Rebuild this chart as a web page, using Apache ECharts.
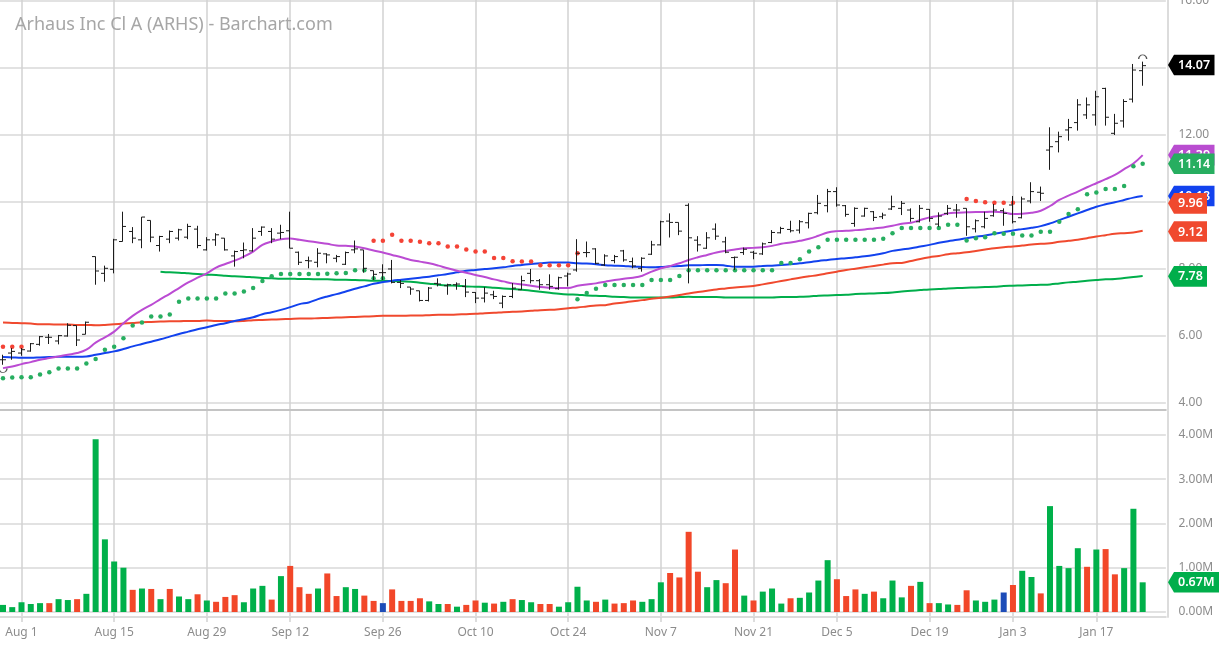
<!DOCTYPE html>
<html><head><meta charset="utf-8">
<style>html,body{margin:0;padding:0;background:#fff}#c{width:1219px;height:645px}</style>
<script src="https://cdn.jsdelivr.net/npm/echarts@6/dist/echarts.min.js"></script>
</head><body><div id="c"></div>
<script>
const categories=['Jul 28','Jul 29',
'Aug 1','Aug 2','Aug 3','Aug 4','Aug 5','Aug 8','Aug 9','Aug 10','Aug 11','Aug 12','Aug 15','Aug 16','Aug 17','Aug 18','Aug 19','Aug 22','Aug 23','Aug 24','Aug 25','Aug 26','Aug 29','Aug 30','Aug 31',
'Sep 1','Sep 2','Sep 6','Sep 7','Sep 8','Sep 9','Sep 12','Sep 13','Sep 14','Sep 15','Sep 16','Sep 19','Sep 20','Sep 21','Sep 22','Sep 23','Sep 26','Sep 27','Sep 28','Sep 29','Sep 30',
'Oct 3','Oct 4','Oct 5','Oct 6','Oct 7','Oct 10','Oct 11','Oct 12','Oct 13','Oct 14','Oct 17','Oct 18','Oct 19','Oct 20','Oct 21','Oct 24','Oct 25','Oct 26','Oct 27','Oct 28','Oct 31',
'Nov 1','Nov 2','Nov 3','Nov 4','Nov 7','Nov 8','Nov 9','Nov 10','Nov 11','Nov 14','Nov 15','Nov 16','Nov 17','Nov 18','Nov 21','Nov 22','Nov 23','Nov 25','Nov 28','Nov 29','Nov 30',
'Dec 1','Dec 2','Dec 5','Dec 6','Dec 7','Dec 8','Dec 9','Dec 12','Dec 13','Dec 14','Dec 15','Dec 16','Dec 19','Dec 20','Dec 21','Dec 22','Dec 23','Dec 27','Dec 28','Dec 29','Dec 30',
'Jan 3','Jan 4','Jan 5','Jan 6','Jan 9','Jan 10','Jan 11','Jan 12','Jan 13','Jan 17','Jan 18','Jan 19','Jan 20','Jan 23','Jan 24',' ','  '];
const tickLabels=['Aug 1','Aug 15','Aug 29','Sep 12','Sep 26','Oct 10','Oct 24','Nov 7','Nov 21','Dec 5','Dec 19','Jan 3','Jan 17'];
const priceTicks=[4,6,8,10,12,14,16];
const volumeTicks=[0,1,2,3,4];
const opens=[5.29,5.49,5.49,5.55,5.75,5.96,5.85,6.0,6.31,6.05,
8.37,7.87,7.99,8.82,9.12,8.87,9.45,8.7,8.89,8.92,
8.95,9.19,8.57,8.87,8.92,8.39,8.55,8.54,9.12,9.12,
9.07,9.14,8.5,8.25,8.2,8.45,8.32,8.14,8.57,8.57,
7.95,7.89,8.0,7.6,7.46,7.35,7.06,7.57,7.5,7.53,
7.48,7.3,7.13,7.23,6.98,7.18,7.38,7.87,7.65,7.53,
7.41,7.79,7.97,8.49,8.6,8.12,8.25,8.54,8.22,8.02,
8.44,8.72,9.43,9.39,9.9,8.86,8.62,9.19,8.81,8.34,
8.49,8.5,8.45,8.79,9.08,9.18,9.16,9.38,9.68,9.89,
10.31,9.89,9.36,9.58,9.71,9.56,9.79,9.81,9.76,9.41,
9.78,9.34,9.66,9.76,9.81,9.2,9.26,9.59,9.74,9.91,
9.53,10.03,10.29,11.55,11.8,12.15,12.37,12.6,12.6,13.39,
12.05,12.42,13.07,13.92];
const highs=[5.44,5.64,5.64,5.79,6.0,6.06,6.03,6.38,6.31,6.43,
8.37,8.1,8.9,9.71,9.25,9.55,9.45,8.99,9.15,9.2,
9.35,9.29,8.95,9.07,8.92,8.55,8.79,9.22,9.27,9.22,
9.32,9.71,8.52,8.37,8.62,8.47,8.42,8.52,8.85,8.57,
7.95,8.14,8.27,7.67,7.46,7.35,7.46,7.72,7.56,7.6,
7.7,7.31,7.46,7.35,7.21,7.58,7.8,8.0,7.7,7.84,
7.77,7.89,8.89,8.82,8.62,8.44,8.42,8.57,8.34,8.35,
8.84,9.44,9.66,9.39,9.96,8.98,9.1,9.36,8.96,8.37,
8.64,8.54,8.79,9.16,9.26,9.44,9.46,9.68,10.21,10.39,
10.44,9.91,9.84,9.83,9.73,9.68,10.19,10.03,9.81,9.91,
9.79,9.69,9.91,9.94,9.81,9.48,9.71,9.94,9.81,10.18,
10.16,10.59,10.46,12.23,12.1,12.48,13.07,13.12,13.32,13.41,
12.63,13.07,14.12,14.19];
const lows=[5.14,5.29,5.41,5.53,5.71,5.76,5.75,5.98,5.7,6.05,
7.53,7.62,7.87,8.82,8.77,8.62,8.8,8.52,8.77,8.85,
8.89,8.62,8.55,8.69,8.55,8.07,8.32,8.52,8.99,8.77,
8.89,8.62,8.12,8.02,8.05,8.17,8.2,8.12,8.47,7.89,
7.67,7.67,7.57,7.43,7.23,7.03,7.03,7.48,7.23,7.38,
7.16,6.98,7.0,7.1,6.83,7.13,7.38,7.57,7.38,7.38,
7.38,7.48,7.92,8.35,8.14,8.09,8.17,8.22,8.02,7.92,
8.42,8.7,8.94,9.01,7.57,8.52,8.6,8.87,8.47,7.97,
8.42,8.29,8.42,8.77,9.06,9.09,9.06,9.21,9.63,9.69,
9.86,9.56,9.26,9.56,9.43,9.49,9.76,9.61,9.41,9.39,
9.41,9.26,9.61,9.53,8.99,9.09,9.21,9.56,9.29,9.36,
9.51,9.96,10.03,10.96,11.48,11.83,12.13,12.48,12.28,12.28,
12.0,12.22,12.97,13.47];
const closes=[5.29,5.54,5.59,5.77,5.98,5.96,6.01,6.32,5.88,6.41,
7.94,8.02,8.87,9.27,8.92,9.55,8.95,8.97,9.12,9.17,
9.27,8.7,8.87,9.02,8.57,8.52,8.57,8.92,9.25,8.89,
9.09,8.62,8.2,8.24,8.47,8.42,8.37,8.49,8.6,8.02,
7.84,7.89,7.6,7.57,7.4,7.06,7.43,7.55,7.53,7.55,
7.31,7.13,7.28,7.18,7.18,7.43,7.65,7.65,7.53,7.48,
7.74,7.85,8.47,8.49,8.17,8.39,8.37,8.27,8.09,8.32,
8.72,9.41,9.39,9.13,8.93,8.72,8.93,8.98,8.5,8.35,
8.59,8.47,8.75,9.09,9.21,9.14,9.41,9.66,9.96,10.31,
9.91,9.63,9.81,9.81,9.54,9.61,9.86,9.96,9.51,9.81,
9.51,9.58,9.81,9.76,9.26,9.44,9.51,9.76,9.66,9.41,
10.09,10.31,10.26,11.65,11.95,12.22,12.9,12.9,13.14,12.53,
12.35,13.0,13.94,14.07];
const maPurple=[5.04,5.09,5.16,5.22,5.29,5.34,5.39,5.44,5.49,5.59,5.8,5.96,6.13,6.38,6.6,6.78,6.93,7.1,7.26,7.43,7.6,7.74,7.87,8.04,8.15,8.25,8.37,8.52,8.72,8.82,8.89,8.91,8.87,
8.83,8.79,8.75,8.7,8.69,8.67,8.62,8.55,8.49,8.42,8.35,8.27,8.22,8.17,8.1,8.02,7.95,7.89,7.82,7.76,7.69,7.63,7.57,7.54,7.5,7.46,7.44,7.43,7.43,7.5,7.54,7.57,
7.62,7.67,7.71,7.74,7.8,7.92,8.02,8.09,8.17,8.27,8.35,8.42,8.49,8.54,8.58,8.62,8.63,8.65,8.69,8.75,8.79,8.84,8.9,8.99,9.09,9.13,9.14,9.16,9.18,9.21,9.24,9.29,
9.35,9.38,9.46,9.54,9.59,9.66,9.68,9.69,9.7,9.7,9.71,9.69,9.64,9.65,9.68,9.74,9.88,10.06,10.19,10.31,10.44,10.56,10.68,10.81,10.98,11.15,11.4];
const maBlue=[5.37,5.36,5.35,5.35,5.36,5.37,5.38,5.38,5.38,5.39,5.44,5.49,5.54,5.61,5.69,5.76,5.83,5.9,5.98,6.06,6.13,6.2,6.26,6.33,6.38,6.45,6.5,6.56,6.65,6.71,6.78,6.86,6.95,
7.0,7.1,7.18,7.25,7.33,7.41,7.48,7.56,7.61,7.65,7.68,7.71,7.74,7.77,7.81,7.85,7.9,7.95,7.97,8.0,8.02,8.05,8.09,8.12,8.15,8.17,8.19,8.19,8.19,8.17,8.16,8.14,
8.11,8.1,8.09,8.07,8.06,8.05,8.06,8.08,8.09,8.11,8.11,8.12,8.12,8.1,8.07,8.07,8.07,8.09,8.1,8.12,8.14,8.17,8.2,8.24,8.27,8.3,8.32,8.35,8.38,8.42,8.47,8.54,
8.58,8.62,8.67,8.72,8.78,8.83,8.87,8.92,8.96,9.0,9.05,9.1,9.15,9.19,9.23,9.28,9.36,9.46,9.56,9.66,9.76,9.86,9.93,9.99,10.06,10.13,10.18];
const maRed=[6.4,6.39,6.38,6.37,6.35,6.35,6.34,6.34,6.33,6.33,6.32,6.33,6.35,6.37,6.39,6.41,6.42,6.43,6.44,6.44,6.45,6.45,6.46,6.45,6.45,6.44,6.45,6.47,6.48,6.49,6.5,6.51,6.52,
6.52,6.53,6.54,6.55,6.56,6.57,6.58,6.59,6.6,6.6,6.6,6.61,6.61,6.62,6.63,6.63,6.64,6.65,6.66,6.68,6.69,6.71,6.72,6.73,6.75,6.77,6.78,6.8,6.83,6.85,6.88,6.91,
6.92,6.97,7.0,7.04,7.07,7.11,7.14,7.18,7.22,7.27,7.31,7.35,7.39,7.42,7.45,7.47,7.49,7.54,7.59,7.64,7.69,7.74,7.78,7.82,7.87,7.92,7.97,8.01,8.05,8.09,8.13,8.17,
8.18,8.24,8.3,8.35,8.39,8.44,8.47,8.5,8.54,8.58,8.62,8.65,8.67,8.7,8.73,8.75,8.77,8.81,8.84,8.87,8.92,8.97,9.01,9.05,9.07,9.09,9.14];
const maGreen=[null,null,null,null,null,null,null,null,null,null,null,null,null,null,null,null,null,
7.92,7.9,7.89,7.87,7.85,7.83,7.82,7.8,7.78,7.77,7.75,7.73,7.72,7.71,7.71,7.7,
7.7,7.69,7.69,7.68,7.68,7.67,7.66,7.65,7.65,7.64,7.63,7.62,7.59,7.56,7.53,7.51,7.5,7.48,7.47,7.46,7.44,7.42,7.4,7.38,7.35,7.32,7.29,7.26,7.24,7.23,7.21,7.2,
7.19,7.17,7.16,7.15,7.15,7.15,7.15,7.15,7.16,7.17,7.16,7.16,7.16,7.15,7.15,7.15,7.15,7.15,7.15,7.16,7.16,7.17,7.18,7.2,7.21,7.22,7.23,7.25,7.26,7.27,7.28,7.3,
7.33,7.35,7.37,7.39,7.4,7.42,7.43,7.44,7.45,7.46,7.47,7.49,7.5,7.51,7.52,7.53,7.54,7.57,7.6,7.62,7.65,7.67,7.69,7.7,7.73,7.76,7.79];
const sarGreen=[4.74,4.76,4.77,4.77,4.85,4.92,5.03,5.03,5.03,5.18,5.31,5.59,5.68,5.93,6.31,6.4,6.58,6.58,6.64,7.02,7.12,7.12,7.12,7.12,7.27,7.27,7.33,7.43,7.64,7.78,7.85,7.85,7.85,
7.85,7.85,7.86,7.87,7.88,7.96,7.96,7.72,7.72,null,null,null,null,null,null,null,null,null,null,null,null,null,null,null,null,null,null,null,null,7.1,7.28,7.41,
7.52,7.52,7.52,7.52,7.52,7.67,7.67,7.67,7.79,7.96,7.96,7.96,7.96,7.96,7.96,7.96,7.96,7.96,7.96,8.18,8.18,8.29,8.52,8.65,8.87,8.87,8.87,8.87,8.87,8.87,8.9,9.07,
9.22,9.22,9.22,9.22,9.22,9.32,9.32,8.85,8.92,8.95,9.07,9.05,9.05,9.0,9.0,9.11,9.11,9.41,9.64,9.78,10.23,10.28,10.39,10.39,10.48,11.07,11.14];
const sarRed=[5.68,5.68,5.68,null,null,null,null,null,null,null,null,null,null,null,null,null,null,null,null,null,null,null,null,null,null,null,null,null,null,null,null,null,null,
null,null,null,null,null,null,null,8.84,8.84,9.02,8.84,8.84,8.81,8.77,8.77,8.67,8.67,8.58,8.52,8.52,8.33,8.33,8.23,8.22,8.22,8.11,8.11,8.11,8.11,8.47,null,null,
null,null,null,null,null,null,null,null,null,null,null,null,null,null,null,null,null,null,null,null,null,null,null,null,null,null,null,null,null,null,null,null,
null,null,null,null,null,null,null,10.09,10.03,9.99,9.98,9.98,9.98];
const volumes=[.16,.11,.22,.18,.2,.2,.29,.27,.29,.41,3.9,1.64,1.14,1.0,.5,.53,.52,.29,.52,.35,.29,.4,.26,.23,.34,.38,.22,.53,.59,.28,.81,1.04,.56,.41,.53,.87,.36,.56,.52,.37,.25,.2,.51,
.25,.25,.31,.24,.18,.18,.12,.16,.26,.21,.19,.23,.29,.27,.22,.18,.18,.12,.22,.57,.26,.23,.28,.19,.2,.26,.23,.29,.67,.88,.78,1.81,.91,.56,.72,.65,1.41,.37,.26,.46,.53,.19,.31,
.32,.44,.71,1.17,.74,.36,.51,.41,.46,.31,.71,.33,.59,.68,.2,.2,.17,.16,.49,.26,.23,.28,.44,.61,.93,.79,.42,2.39,1.04,.99,1.44,1.02,1.41,1.42,.85,.99,2.33,.67];
const volumeDirs=('GGGGGRGGRG'+'GGGGRGRGRG'+'GRGRRRGGGR'+'GRRRGRRGGR'+'RBRR'+'RRGGRGRRGR'+'GRGGRRGGGG'+'RGRRRGGGRR'+'RRGGRRGRGG'+'GRGGGGRRRG'+'RGGGRGRGGR'+'RGGGBRGGRG'+'GGGRGRRGGG').split('');
const arcsUnder=[[0,4.97]];
const arcsOver=[[123,14.33]];
const priceTagValues=[14.09,11.40,11.14,10.18,9.96,9.12,7.78];
const priceTagTexts=['14.07','11.39','11.14','10.18','9.96','9.12','7.78'];
const priceTagColors=['#000000','#b94dd0','#27ae60','#1242ee','#f0492e','#f0492e','#00ae4b'];
const volumeTagValues=[.67];
const volumeTagTexts=['0.67M'];
const volumeTagColors=['#00ae4b'];

const GRAY='#8c8c8c', HLINE='#e2e2e2', VLINE='#d2d2d2';
const isTick=(i,v)=>tickLabels.indexOf(v)>=0;
const tagRender=(texts,colors,R)=>function(p,api){
  const y=api.coord([0,api.value(1)])[1];
  const txt=texts[p.dataIndex], col=colors[p.dataIndex];
  const L=1168, B=1174, H=10.3;
  const right=R||(txt.length>=5?1214.5:1207);
  return {type:'group',children:[
    {type:'polygon',shape:{points:[[L,y],[B,y-H],[right,y-H],[right,y+H],[B,y+H]]},style:{fill:col}},
    {type:'text',style:{x:1178,y:y+0.5,text:txt,fill:'#fff',font:'600 12.5px "Noto Sans"',textVerticalAlign:'middle'}}
  ]};
};
function ohlcRender(p,api){
  const i=api.value(0);
  const c=api.coord([i,api.value(2)]), lo=api.coord([i,api.value(3)]);
  const o=api.coord([i,api.value(1)]), cl=api.coord([i,api.value(4)]);
  const x=Math.round(c[0])-0.5, st={stroke:'#1c1c1c',lineWidth:1,fill:null};
  return {type:'group',children:[
    {type:'line',shape:{x1:x,y1:c[1],x2:x,y2:lo[1]},style:st},
    {type:'line',shape:{x1:x-3.5,y1:o[1],x2:x,y2:o[1]},style:st},
    {type:'line',shape:{x1:x,y1:cl[1],x2:x+3.5,y2:cl[1]},style:st}
  ]};
}
const lineS=(name,data,color)=>({name,type:'line',data,xAxisIndex:0,yAxisIndex:0,symbol:'none',smooth:0.4,connectNulls:false,lineStyle:{color,width:2},z:3,animation:false});
const dotS=(name,data,color)=>({name,type:'scatter',data,xAxisIndex:0,yAxisIndex:0,symbol:'circle',symbolSize:4.5,itemStyle:{color,opacity:1},z:4,animation:false});
const xAxisCommon={type:'category',data:categories,boundaryGap:true,
  axisTick:{show:true,alignWithLabel:true,interval:isTick,length:5,lineStyle:{color:VLINE,width:1.5}},
  splitLine:{show:true,alignWithLabel:true,interval:isTick,lineStyle:{color:VLINE,width:1.5}}};

const chart=echarts.init(document.getElementById('c'),null,{renderer:'canvas'});
chart.setOption({
  animation:false,backgroundColor:'#fff',
  title:{text:'Arhaus Inc Cl A (ARHS) - Barchart.com',left:10,top:10.5,textStyle:{color:'#a6a6a6',fontFamily:'Noto Sans',fontSize:18,fontWeight:'normal'}},
  grid:[{left:-1.66,width:1167.5,top:0,height:410,outerBoundsMode:'none'},{left:-1.66,width:1167.5,top:411,height:206,outerBoundsMode:'none'}],
  xAxis:[
    Object.assign({},xAxisCommon,{gridIndex:0,position:'bottom',axisLabel:{show:false},axisTick:{show:false,alignWithLabel:true,interval:isTick},axisLine:{show:true,onZero:false,lineStyle:{color:'#c4c4c4',width:2}}}),
    Object.assign({},xAxisCommon,{gridIndex:1,position:'bottom',axisLine:{show:true,onZero:false,lineStyle:{color:'#dcdcdc',width:2}},
      axisLabel:{show:true,interval:isTick,color:GRAY,fontFamily:'Noto Sans',fontSize:12,margin:10}})
  ],
  yAxis:[
    {type:'value',gridIndex:0,position:'right',offset:1.6,min:3.79,max:16.03,
     axisLine:{show:true,lineStyle:{color:'#dcdcdc',width:2}},
     axisTick:{show:false,customValues:priceTicks},
     axisLabel:{show:true,customValues:priceTicks,formatter:v=>v.toFixed(2),color:GRAY,fontFamily:'Noto Sans',fontSize:12,margin:11,showMinLabel:true,showMaxLabel:true,hideOverlap:false},
     splitLine:{show:true,lineStyle:{color:HLINE,width:2}}},
    {type:'value',gridIndex:1,position:'right',offset:1.6,min:-0.113,max:4.537,
     axisLine:{show:true,lineStyle:{color:'#dcdcdc',width:2}},
     axisTick:{show:false,customValues:volumeTicks},
     axisLabel:{show:true,customValues:volumeTicks,formatter:v=>v.toFixed(2)+'M',color:GRAY,fontFamily:'Noto Sans',fontSize:12,margin:11},
     splitLine:{show:true,lineStyle:{color:HLINE,width:2}}}
  ],
  series:[
    lineS('MA green',maGreen,'#00ae4b'),
    lineS('MA red',maRed,'#f0492e'),
    lineS('MA blue',maBlue,'#1242ee'),
    lineS('MA purple',maPurple,'#bb4bd3'),
    dotS('SAR green',sarGreen,'#27ae60'),
    dotS('SAR red',sarRed,'#f44336'),
    {name:'OHLC',type:'custom',xAxisIndex:0,yAxisIndex:0,z:5,
     data:opens.map((o,i)=>[i,o,highs[i],lows[i],closes[i]]),encode:{x:0,y:[1,2,3,4]},renderItem:ohlcRender},
    {name:'arc under',type:'scatter',xAxisIndex:0,yAxisIndex:0,data:arcsUnder,symbol:'path://M0 0 A5 3 0 0 0 10 0',symbolSize:[8,4],itemStyle:{color:'none',borderColor:'#555',borderWidth:1,opacity:1},z:5},
    {name:'arc over',type:'scatter',xAxisIndex:0,yAxisIndex:0,data:arcsOver,symbol:'path://M0 3 A5 3 0 0 1 10 3',symbolSize:[8,4],itemStyle:{color:'none',borderColor:'#555',borderWidth:1,opacity:1},z:5},
    {name:'Volume',type:'bar',xAxisIndex:1,yAxisIndex:1,barWidth:6,
     data:volumes.map((v,i)=>({value:v,itemStyle:{color:{G:'#00b04a',R:'#f24729',B:'#1d4cb8'}[volumeDirs[i]]}}))},
    {name:'Price tags',type:'custom',xAxisIndex:0,yAxisIndex:0,z:10,clip:false,
     data:priceTagValues.map(v=>[0,v]),encode:{x:0,y:1},renderItem:tagRender(priceTagTexts,priceTagColors)},
    {name:'Volume tags',type:'custom',xAxisIndex:1,yAxisIndex:1,z:10,clip:false,
     data:volumeTagValues.map(v=>[0,v]),encode:{x:0,y:1},renderItem:tagRender(volumeTagTexts,volumeTagColors,1222)}
  ]
});
</script></body></html>
